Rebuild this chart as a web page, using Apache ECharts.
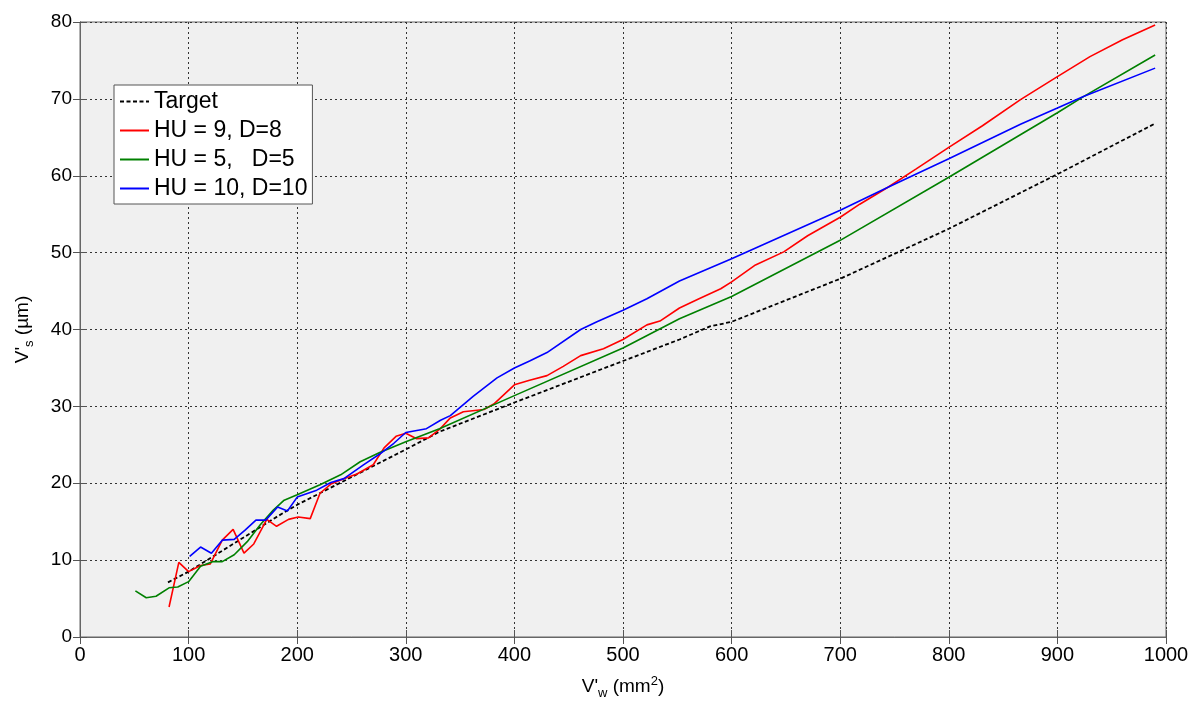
<!DOCTYPE html>
<html>
<head>
<meta charset="utf-8">
<script src="https://cdn.jsdelivr.net/npm/echarts@6/dist/echarts.min.js"></script>
<style>html,body{margin:0;padding:0;background:#fff;}#c{width:1198px;height:705px;}</style>
</head>
<body>
<div id="c"></div>
<script>
const seriesNames = ['Target', 'HU = 9, D=8', 'HU = 5,   D=5', 'HU = 10, D=10'];
const targetData = [[81,7.1],[100,8.5],[182,15.7],[200,17.2],[300,24.4],[331,26.7],[400,30.5],[500,35.9],[552,38.7],[580,40.4],[600,41.0],[700,46.6],[800,53.1],[900,60.2],[990,66.8]];
const redData = [[82,3.9],[91,9.7],[100,8.5],[111,9.3],[120,9.5],[131,12.6],[141,14.0],[151,10.9],[160,12.1],[172,15.3],[181,14.4],[192,15.3],[201,15.6],[212,15.4],[221,18.7],[231,19.9],[243,20.6],[255,21.2],[270,22.4],[280,24.6],[291,26.1],[300,26.5],[310,25.8],[321,25.9],[331,27.0],[341,28.5],[353,29.3],[372,29.6],[381,30.3],[400,32.8],[414,33.4],[430,34.0],[445,35.2],[461,36.6],[482,37.5],[500,38.7],[522,40.6],[534,41.1],[552,42.8],[570,44.0],[590,45.3],[600,46.2],[622,48.4],[648,50.1],[670,52.2],[700,54.6],[718,56.3],[744,58.5],[770,60.9],[800,63.7],[831,66.5],[866,69.9],[900,72.9],[930,75.5],[960,77.7],[990,79.6]];
const greenData = [[51,6.0],[61,5.1],[70,5.3],[82,6.4],[90,6.5],[100,7.2],[111,9.2],[122,9.8],[131,9.8],[142,10.7],[154,12.4],[166,14.6],[178,16.5],[188,17.8],[200,18.5],[221,19.8],[240,21.1],[258,22.8],[276,24.0],[300,25.4],[331,27.1],[400,31.4],[500,37.6],[552,41.4],[600,44.3],[700,51.6],[800,59.8],[900,68.2],[924,70.3],[990,75.7]];
const blueData = [[101,10.5],[111,11.7],[121,10.9],[131,12.6],[142,12.7],[152,13.9],[162,15.2],[171,15.2],[182,16.9],[191,16.4],[200,18.2],[218,19.1],[231,20.1],[243,20.6],[261,22.4],[276,23.8],[289,25.2],[300,26.6],[319,27.1],[332,28.2],[341,28.8],[362,31.3],[384,33.7],[400,35.0],[414,35.9],[430,37.0],[461,40.0],[476,41.0],[500,42.5],[522,44.0],[552,46.3],[600,49.2],[700,55.5],[744,58.5],[800,62.2],[866,66.7],[900,68.8],[924,70.3],[990,74.0]];
const xTicks = {min:0, max:1000, interval:100};
const yTicks = {min:0, max:80, interval:10};

const chart = echarts.init(document.getElementById('c'), null, {renderer:'canvas'});
const gridLine = {show:true, lineStyle:{color:'#333', type:[2,3], width:1}};
const axisLine = {show:true, lineStyle:{color:'#666', width:1}};
const tick = {show:true, inside:true, length:7, lineStyle:{color:'#555'}};
function mk(name, data, color, dashed, w) {
  return {name:name, type:'line', data:data, symbol:'none', showSymbol:false, animation:false,
    lineStyle:{color:color, width:w, type: dashed ? [4,2.5] : 'solid'}, itemStyle:{color:color}};
}
chart.setOption({
  backgroundColor:'#fff',
  animation:false,
  grid:{left:80, right:32, top:22, bottom:64, show:true, backgroundColor:'#f0f0f0', borderColor:'#666', borderWidth:1},
  legend:{show:true, orient:'vertical', left:114, top:85, itemWidth:29, itemHeight:14, itemGap:6,
    backgroundColor:'#fff', borderColor:'#555', borderWidth:1, padding:[5,5,4,5],
    itemStyle:{opacity:0},
    textStyle:{fontFamily:'Liberation Sans, Arial, sans-serif', fontSize:23, color:'#000', lineHeight:23},
    data:seriesNames },
  xAxis:[{type:'value', min:xTicks.min, max:xTicks.max, interval:xTicks.interval,
    axisLine:axisLine, axisTick:tick, splitLine:gridLine,
    axisLabel:{color:'#000', fontSize:20, margin:8, formatter:v=>String(v), fontFamily:'Liberation Sans Narrow, Liberation Sans, Arial, sans-serif'},
    name:"V'{sub|w} (mm{sup|2})", nameLocation:'middle', nameGap:36,
    nameTextStyle:{color:'#000', fontSize:19, fontFamily:'Liberation Sans Narrow, Liberation Sans, Arial, sans-serif',
      rich:{sub:{fontSize:13, padding:[14,0,0,0], fontFamily:'Liberation Sans Narrow, Liberation Sans, Arial'}, sup:{fontSize:13, padding:[0,0,10,0], fontFamily:'Liberation Sans Narrow, Liberation Sans, Arial'}}}},
    {type:'value', position:'top', min:xTicks.min, max:xTicks.max, interval:xTicks.interval,
    axisLine:axisLine, axisTick:tick, splitLine:{show:false}, axisLabel:{show:false}}],
  yAxis:[{type:'value', min:yTicks.min, max:yTicks.max, interval:yTicks.interval,
    axisLine:axisLine, axisTick:tick, splitLine:gridLine,
    axisLabel:{color:'#000', fontSize:19, margin:8, fontFamily:'Liberation Sans, Arial, sans-serif'},
    name:"V'{sub|s} (µm)", nameLocation:'middle', nameGap:44, nameRotate:90,
    nameTextStyle:{color:'#000', fontSize:19, fontFamily:'Liberation Sans, Arial, sans-serif',
      rich:{sub:{fontSize:13, padding:[14,0,0,0]}}}},
    {type:'value', position:'right', min:yTicks.min, max:yTicks.max, interval:yTicks.interval,
    axisLine:axisLine, axisTick:tick, splitLine:{show:false}, axisLabel:{show:false}}],
  series:[
    mk(seriesNames[0], targetData, '#000', true, 1.8),
    mk(seriesNames[1], redData, '#ff0000', false, 1.6),
    mk(seriesNames[2], greenData, '#008000', false, 1.6),
    mk(seriesNames[3], blueData, '#0000ff', false, 1.6)
  ]
});
</script>
</body>
</html>
